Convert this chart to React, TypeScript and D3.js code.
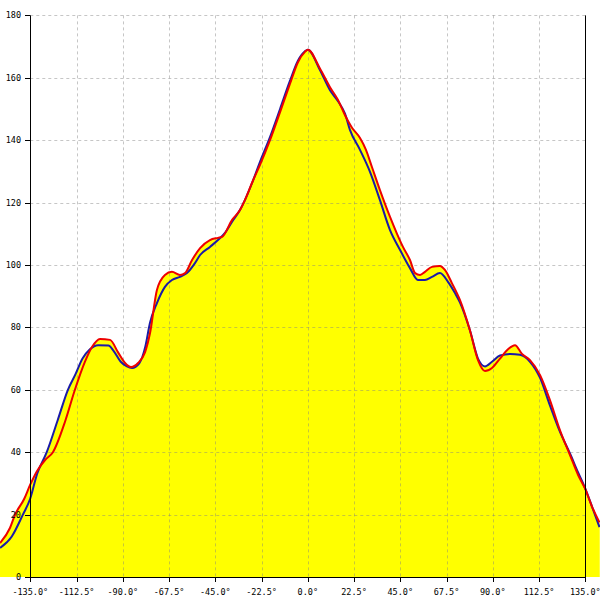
import React from "react";
import * as d3 from "d3";

const redAngles = [-149.7, -144.9, -142.4, -138.0, -135.1, -131.7, -127.8, -124.0, -118.0, -113.3, -108.4, -105.0, -101.1, -96.2, -92.3, -88.9, -86.0, -82.6, -79.2, -76.8, -73.4, -69.5, -66.1, -62.2, -59.7, -56.3, -52.4, -47.6, -43.7, -41.7, -36.9, -33.0, -30.6, -26.7, -23.3, -18.4, -13.5, -8.7, -4.8, -1.4, 0, 5.9, 10.8, 14.7, 18.1, 21.5, 25.4, 28.3, 31.2, 35.1, 40.0, 43.4, 46.3, 49.7, 52.2, 54.6, 57.0, 60.4, 64.3, 66.7, 70.1, 74.0, 78.9, 82.8, 86.2, 89.6, 93.5, 97.4, 100.8, 104.2, 108.1, 113.0, 117.8, 122.7, 127.6, 131.5, 134.9, 138.3, 141.9];
const redValues = [10.9, 15.7, 20, 25, 29.5, 34, 37.5, 40, 50, 60, 69, 73.7, 76.3, 76, 72, 68.6, 67.3, 68.6, 72, 78, 92, 96.8, 97.8, 96.8, 97.4, 101.6, 105.4, 108, 108.7, 109, 114.4, 117.6, 120.8, 127, 132, 140, 149, 158, 165, 168.3, 169, 163, 157, 152.9, 148, 144, 140.7, 136.9, 131.4, 124, 115.4, 110, 105.8, 101.6, 97.4, 96.8, 97.8, 99.4, 99.7, 98.4, 94.2, 88.8, 79, 69.5, 66, 67, 70, 73, 74.3, 71.5, 69.5, 64.7, 56.7, 47, 39, 32.7, 28.3, 22.5, 17.5];

const blueAngles = [-149.7, -144.0, -138.6, -135.1, -131.7, -127.0, -121.8, -116.7, -113.0, -109.6, -106.0, -102.0, -97.0, -94.5, -91.0, -88.0, -85.5, -82.0, -79.0, -76.8, -73.4, -69.5, -66.1, -62.2, -58.8, -54.9, -52.4, -47.6, -43.7, -40.3, -36.9, -33.0, -30.6, -26.7, -23.3, -18.4, -13.5, -8.7, -4.8, -1.4, 0, 5.9, 10.8, 14.7, 18.1, 20.5, 25.4, 30.3, 35.1, 40.0, 44.9, 49.7, 53.6, 57.0, 60.4, 64.3, 68.2, 71.6, 74.0, 78.9, 82.8, 86.2, 89.6, 93.5, 98.4, 103.2, 108.1, 113.0, 117.8, 122.7, 127.6, 131.5, 134.9, 138.3, 141.9];
const blueValues = [9.3, 13, 20, 25, 33, 40, 50, 60, 65, 70, 73, 74.3, 74.2, 72.5, 69, 67.5, 67, 68.5, 74, 81.4, 87.8, 93, 95.2, 96.2, 97.4, 100.6, 103.2, 105.8, 108, 110.3, 113.8, 117.6, 120.8, 127, 133, 141, 150, 159, 165.5, 168.5, 169, 162.5, 156, 152.5, 148.5, 143.3, 136.9, 129.8, 120.8, 111.2, 104.8, 99, 95.2, 95.2, 96.2, 97.4, 94.6, 91, 88, 79, 70, 67.5, 69, 71, 71.5, 71.2, 69, 63.8, 55, 46.5, 39.5, 33.5, 28.5, 22.5, 16];

const xTicks = [-135, -112.5, -90, -67.5, -45, -22.5, 0, 22.5, 45, 67.5, 90, 112.5, 135];
const yTicks = [0, 20, 40, 60, 80, 100, 120, 140, 160, 180];

export default function App() {
  const W = 600, H = 600;
  const x = d3.scaleLinear().domain([-135, 135]).range([30.3, 585.3]);
  const y = d3.scaleLinear().domain([0, 180]).range([577, 15.4]);
  const red = redAngles.map((a, i) => [a, redValues[i]] as [number, number]);
  const blue = blueAngles.map((a, i) => [a, blueValues[i]] as [number, number]);
  const line = d3.line<[number, number]>().x(d => x(d[0])).y(d => y(d[1])).curve(d3.curveMonotoneX);
  const area = d3.area<[number, number]>().x(d => x(d[0])).y0(y(0)).y1(d => y(d[1])).curve(d3.curveMonotoneX);
  const font = "'DejaVu Sans Mono', monospace";
  const x0 = x(-135), x1 = x(135), yb = y(0), yt = y(180);
  return (
    <svg width={W} height={H} style={{ position: "absolute", left: 0, top: 0, display: "block", background: "#fff" }}>
      <path d={area(red) || ""} fill="#ffff00" />
      <path d={area(blue) || ""} fill="#ffff00" />
      {yTicks.filter(t => t > 0).map(t => (
        <line key={"gy" + t} x1={x0} x2={x1} y1={Math.round(y(t)) + 0.5} y2={Math.round(y(t)) + 0.5} stroke="#808080" strokeOpacity={0.45} strokeDasharray="3,3" />
      ))}
      {xTicks.filter(t => t !== -135 && t !== 135).map(t => (
        <line key={"gx" + t} x1={Math.round(x(t)) + 0.5} x2={Math.round(x(t)) + 0.5} y1={yt} y2={yb} stroke="#808080" strokeOpacity={0.45} strokeDasharray="3,3" />
      ))}
      <path d={line(blue) || ""} fill="none" stroke="#1a1aa8" strokeWidth={2} />
      <path d={line(red) || ""} fill="none" stroke="#ee0000" strokeWidth={2} />
      <line x1={Math.round(x0) + 0.5} x2={Math.round(x0) + 0.5} y1={yt} y2={yb} stroke="#000" />
      <line x1={Math.round(x1) + 0.5} x2={Math.round(x1) + 0.5} y1={yt} y2={yb} stroke="#000" />
      <line x1={x0} x2={x1} y1={Math.round(yb) + 0.5} y2={Math.round(yb) + 0.5} stroke="#000" />
      {yTicks.map(t => (
        <g key={"ty" + t}>
          <line x1={25} x2={x0} y1={Math.round(y(t)) + 0.5} y2={Math.round(y(t)) + 0.5} stroke="#000" />
          <text x={21} y={y(t)} dy="0.35em" textAnchor="end" fontFamily={font} fontSize={8.5} fill="#000">{t}</text>
        </g>
      ))}
      {xTicks.map(t => (
        <g key={"tx" + t}>
          <line x1={Math.round(x(t)) + 0.5} x2={Math.round(x(t)) + 0.5} y1={yb} y2={yb + 5} stroke="#000" />
          <text x={x(t)} y={595} textAnchor="middle" fontFamily={font} fontSize={8.5} fill="#000">{t.toFixed(1) + "°"}</text>
        </g>
      ))}
    </svg>
  );
}
